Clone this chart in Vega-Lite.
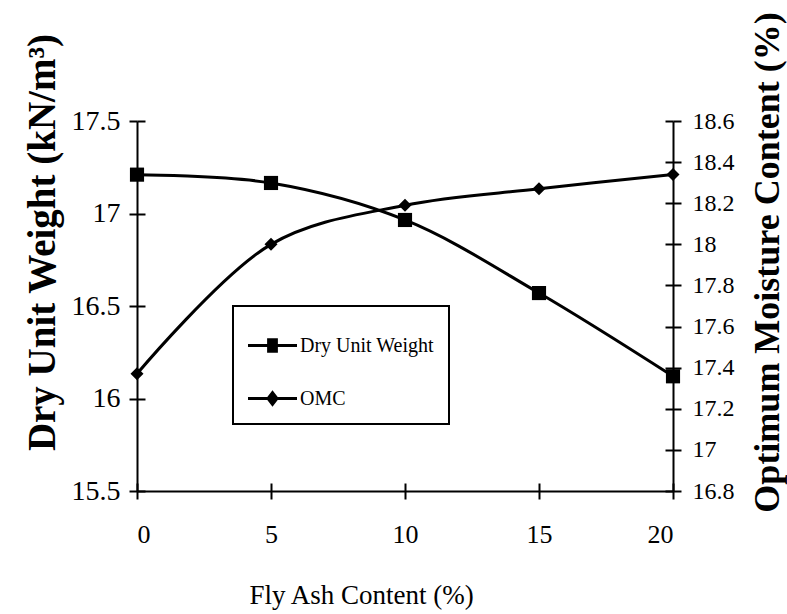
{
  "$schema": "https://vega.github.io/schema/vega-lite/v6.json",
  "width": 536,
  "height": 370,
  "autosize": {"type": "none"},
  "padding": {"left": 137, "top": 121, "right": 114, "bottom": 123},
  "background": "white",
  "config": {
    "view": {"stroke": null},
    "font": "Liberation Serif",
    "legend": {"strokeWidth": 2},
    "axis": {
      "grid": false,
      "domainColor": "black",
      "domainWidth": 2,
      "tickColor": "black",
      "tickWidth": 2,
      "tickSize": 8,
      "labelColor": "black",
      "titleColor": "black",
      "labelFont": "Liberation Serif",
      "titleFont": "Liberation Serif"
    }
  },
  "data": {
    "values": [
      {"fa": 0, "series": "Dry Unit Weight", "value": 17.21},
      {"fa": 5, "series": "Dry Unit Weight", "value": 17.165},
      {"fa": 10, "series": "Dry Unit Weight", "value": 16.965},
      {"fa": 15, "series": "Dry Unit Weight", "value": 16.57},
      {"fa": 20, "series": "Dry Unit Weight", "value": 16.12},
      {"fa": 0, "series": "OMC", "value": 17.37},
      {"fa": 5, "series": "OMC", "value": 18.0},
      {"fa": 10, "series": "OMC", "value": 18.19},
      {"fa": 15, "series": "OMC", "value": 18.27},
      {"fa": 20, "series": "OMC", "value": 18.34}
    ]
  },
  "layer": [
    {
      "transform": [{"filter": "datum.series === 'Dry Unit Weight'"}],
      "encoding": {
        "x": {
          "field": "fa",
          "type": "quantitative",
          "scale": {"domain": [0, 20], "nice": false, "zero": false},
          "axis": {
            "orient": "bottom",
            "values": [0, 5, 10, 15, 20],
            "title": "Fly Ash Content (%)",
            "labelFontSize": 26,
            "labelPadding": 22,
            "titleFontSize": 27,
            "titleFontWeight": "normal",
            "titleX": 224,
            "titleY": 104,
            "titleBaseline": "middle",
            "titleAlign": "center"
          }
        },
        "y": {
          "field": "value",
          "type": "quantitative",
          "scale": {"domain": [15.5, 17.5], "nice": false, "zero": false},
          "axis": {
            "orient": "left",
            "values": [15.5, 16, 16.5, 17, 17.5],
            "labelExpr": "'' + datum.value",
            "labelFontSize": 28,
            "labelPadding": 9,
            "title": "Dry Unit Weight (kN/m³)",
            "titleFontSize": 39,
            "titleFontWeight": "bold",
            "titleAngle": 270,
            "titleX": -95,
            "titleY": 121,
            "titleAlign": "center",
            "titleBaseline": "middle"
          }
        }
      },
      "layer": [
        {"mark": {"type": "line", "interpolate": "catmull-rom", "color": "black", "strokeWidth": 3}},
        {"mark": {"type": "point", "shape": "square", "filled": true, "color": "black", "size": 200, "opacity": 1}}
      ]
    },
    {
      "transform": [{"filter": "datum.series === 'OMC'"}],
      "encoding": {
        "x": {"field": "fa", "type": "quantitative", "axis": null},
        "y": {
          "field": "value",
          "type": "quantitative",
          "scale": {"domain": [16.8, 18.6], "nice": false, "zero": false},
          "axis": {
            "orient": "right",
            "values": [16.8, 17, 17.2, 17.4, 17.6, 17.8, 18, 18.2, 18.4, 18.6],
            "labelExpr": "'' + datum.value",
            "labelFontSize": 24,
            "labelPadding": 11,
            "title": "Optimum Moisture Content (%)",
            "titleFontSize": 36,
            "titleFontWeight": "bold",
            "titleAngle": 270,
            "titleX": 94,
            "titleY": 141,
            "titleAlign": "center",
            "titleBaseline": "middle"
          }
        }
      },
      "layer": [
        {"mark": {"type": "line", "interpolate": "catmull-rom", "color": "black", "strokeWidth": 3}},
        {"mark": {"type": "point", "shape": "diamond", "filled": true, "color": "black", "size": 170, "opacity": 1}}
      ]
    },
    {
      "transform": [{"filter": "datum.fa < 0"}],
      "mark": {"type": "point", "filled": true, "color": "black", "size": 2401, "opacity": 1},
      "encoding": {
        "x": {
          "field": "fa",
          "type": "quantitative",
          "axis": {"orient": "bottom", "values": [0, 5, 10, 15, 20], "tickSize": -8, "labels": false, "domain": false, "title": null}
        },
        "y": {
          "field": "value",
          "type": "quantitative",
          "scale": {"domain": [15.5, 17.5], "nice": false, "zero": false},
          "axis": {"orient": "left", "values": [15.5, 16, 16.5, 17, 17.5], "tickSize": -8, "labels": false, "domain": false, "title": null}
        },
        "shape": {
          "field": "series",
          "type": "nominal",
          "scale": {
            "domain": ["Dry Unit Weight", "OMC"],
            "range": [
              "M-1,-0.06H1V0.06H-1ZM-0.22,-0.3H0.22V0.3H-0.22Z",
              "M-1,-0.06H1V0.06H-1ZM0,-0.34L0.26,0L0,0.34L-0.26,0Z"
            ]
          },
          "legend": {
            "title": null,
            "orient": "none",
            "legendX": 96,
            "legendY": 185,
            "strokeColor": "black",
            "fillColor": "white",
            "padding": 15,
            "symbolSize": 2401,
            "symbolFillColor": "black",
            "symbolStrokeWidth": 0,
            "symbolOpacity": 1,
            "rowPadding": 18,
            "labelFontSize": 20,
            "labelFont": "Liberation Serif",
            "labelColor": "black",
            "labelOffset": 3,
            "labelLimit": 300
          }
        }
      }
    },
    {
      "transform": [{"filter": "datum.fa < 0"}],
      "mark": {"type": "point", "opacity": 0},
      "encoding": {
        "x": {"field": "fa", "type": "quantitative", "axis": null},
        "y": {
          "field": "value",
          "type": "quantitative",
          "scale": {"domain": [16.8, 18.6], "nice": false, "zero": false},
          "axis": {"orient": "right", "values": [16.8, 17, 17.2, 17.4, 17.6, 17.8, 18, 18.2, 18.4, 18.6], "tickSize": -8, "labels": false, "domain": false, "title": null}
        }
      }
    }
  ],
  "resolve": {"scale": {"y": "independent"}, "axis": {"x": "independent", "y": "independent"}}
}
